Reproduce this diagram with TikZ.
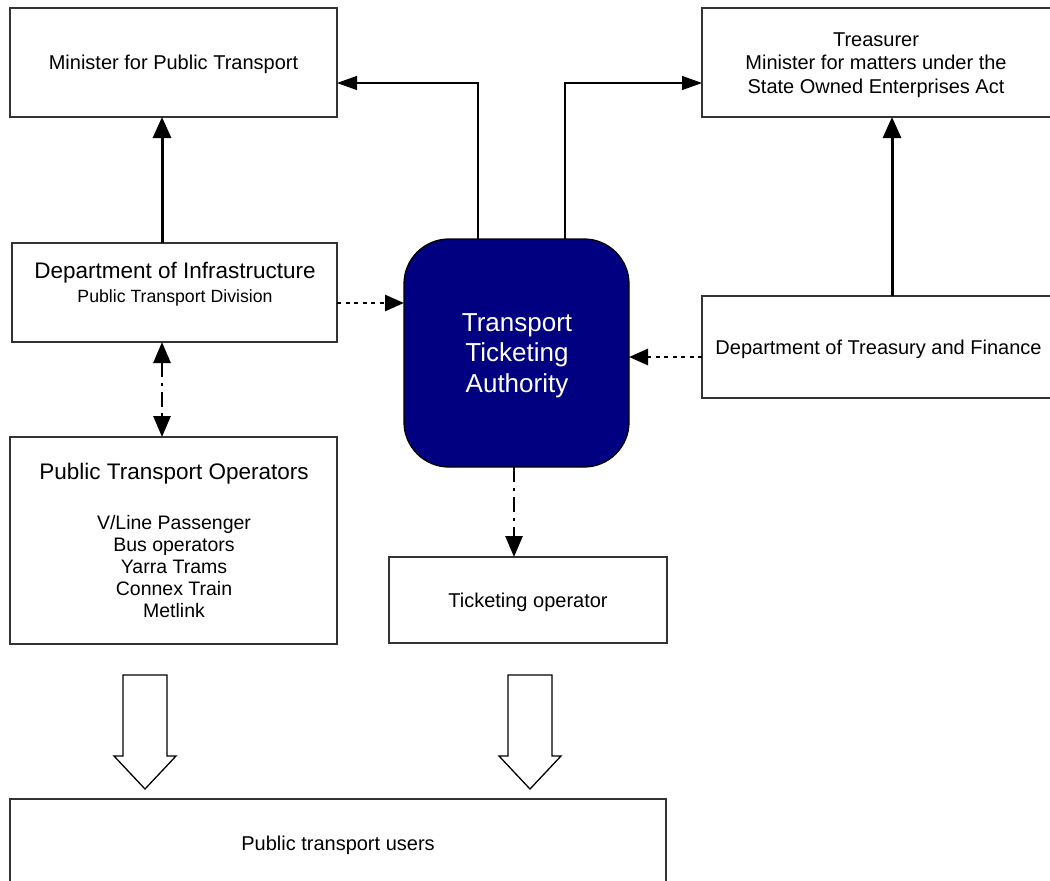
\documentclass[tikz,border=0pt]{standalone}
\usepackage{fontspec}
\setmainfont{Liberation Sans}
\usetikzlibrary{arrows.meta}
\definecolor{ttanavy}{RGB}{0,0,128}
\begin{document}
\begin{tikzpicture}[x=1pt,y=-1pt,
  box/.style={draw=black!80, line width=1.3pt, inner sep=0pt, outer sep=0pt, align=center,
    font=\fontsize{20}{23.5}\selectfont},
  onel/.style={text height=14.4pt, text depth=0pt},
  txt/.style={inner sep=0pt, anchor=base, align=center},
  thinarrow/.style={draw=black, line width=1.3pt, -{Triangle[length=20pt,width=14pt]}},
  thickarrow/.style={draw=black, line width=3pt, -{Triangle[length=21pt,width=18pt]}},
  dotarrow/.style={draw=black, line width=2.8pt, dash pattern=on 4pt off 4.5pt, -{Triangle[length=19pt,width=16pt]}},
  dasharrow/.style={draw=black, line width=2.7pt, dash pattern=on 15pt off 6pt on 3pt off 6pt, -{Triangle[length=21pt,width=17pt]}},
  blockarrow/.style={draw=black, line width=1.3pt, fill=white, line join=miter}
]
\useasboundingbox (0,0) rectangle (1050,881);

% boxes
\node[box, onel, minimum width=327pt, minimum height=109pt] (min) at (173.5,62.5) {Minister for Public Transport};
\node[box, minimum width=353pt, minimum height=109pt] (treas) at (878.5,62.5) {};
\node[box, draw=black, fill=ttanavy, rounded corners=45pt, minimum width=225pt, minimum height=228pt] (tta) at (516.5,353) {};
\node[box, onel, minimum width=353pt, minimum height=102pt] (dtf) at (878.5,347) {Department of Treasury and Finance};
\node[box, minimum width=325pt, minimum height=99pt] (doi) at (174.5,292.5) {};
\node[box, minimum width=327pt, minimum height=207pt] (pto) at (173.5,540.5) {};
\node[box, onel, minimum width=278pt, minimum height=86pt] (to) at (528,600) {Ticketing operator};
\node[box, onel, minimum width=656pt, minimum height=88pt] (users) at (338,843) {Public transport users};

% texts placed inside their boxes
\node[inner sep=0pt, anchor=north, align=center, font=\fontsize{20}{23.5}\selectfont] (treast) at (876,32.5)
  {Treasurer\\Minister for matters under the\\State Owned Enterprises Act};
\node[inner sep=0pt, anchor=north, align=center, text=white, font=\fontsize{26}{30.5}\selectfont] (ttat) at (517,313)
  {Transport\\Ticketing\\Authority};
\node[txt, font=\fontsize{22.5}{26}\selectfont] (doit) at (175,278) {Department of Infrastructure};
\node[txt, font=\fontsize{17.7}{20}\selectfont] (doid) at (175,302) {Public Transport Division};
\node[txt, font=\fontsize{22.5}{26}\selectfont] (ptot) at (174,479) {Public Transport Operators};
\node[inner sep=0pt, anchor=north, align=center, font=\fontsize{19.5}{22}\selectfont] (ptol) at (174,515)
  {V/Line Passenger\\Bus operators\\Yarra Trams\\Connex Train\\Metlink};

% connectors
\draw[thickarrow] ([xshift=-12.5pt]doi.north) -- ([xshift=-12.5pt]doi.north |- min.south);
\draw[thickarrow] ([xshift=13.5pt]dtf.north) -- ([xshift=13.5pt]dtf.north |- treas.south);
\draw[thinarrow] ([xshift=-38.5pt]tta.north) |- ([yshift=-20.5pt]min.east);
\draw[thinarrow] ([xshift=48.5pt]tta.north) |- ([yshift=-20.5pt]treas.west);
\coordinate (d1) at ([yshift=-10.5pt]doi.east);
\draw[dotarrow] (d1) -- (d1 -| tta.west);
\coordinate (d2) at ([yshift=-10pt]dtf.west);
\draw[dotarrow] (d2) -- (d2 -| tta.east);
\draw[dasharrow, {Triangle[length=21pt,width=17pt]}-{Triangle[length=21pt,width=17pt]}]
  ([xshift=-12.5pt]doi.south) -- ([xshift=-12.5pt]doi.south |- pto.north);
\coordinate (d3) at ([xshift=-14pt]to.north);
\draw[dasharrow] (d3 |- tta.south) -- (d3);

% block arrows towards the users
\draw[blockarrow] (123,675) -- (167,675) -- (167,756) -- (176,756) -- (145,789) -- (114,756) -- (123,756) -- cycle;
\draw[blockarrow] (508,675) -- (552,675) -- (552,756) -- (561,756) -- (530,789) -- (499,756) -- (508,756) -- cycle;
\end{tikzpicture}
\end{document}
